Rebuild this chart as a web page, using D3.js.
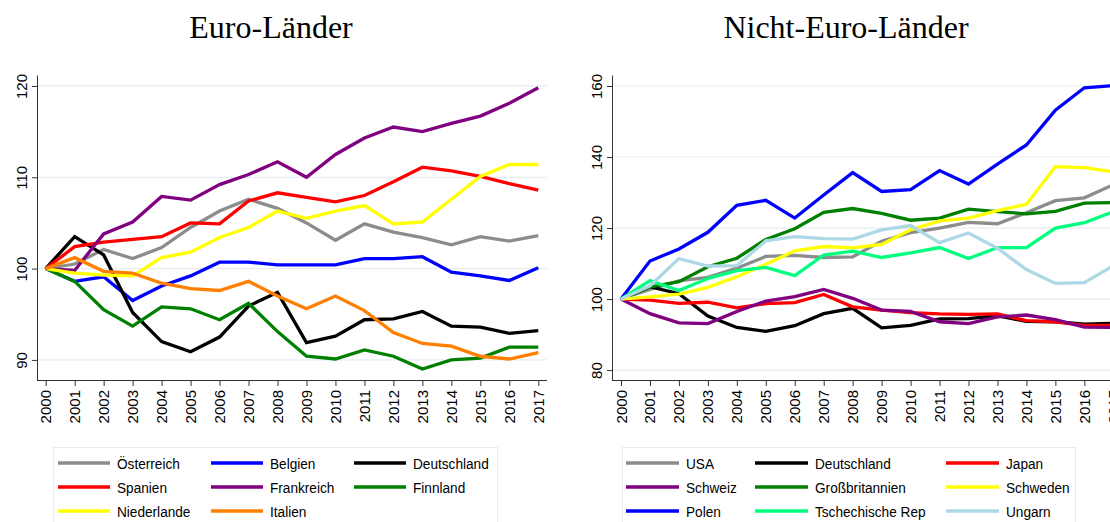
<!DOCTYPE html>
<html>
<head>
<meta charset="utf-8">
<script src="https://cdn.jsdelivr.net/npm/d3@7"></script>
<style>
  body { margin: 0; background: #fff; }
  svg { display: block; }
</style>
</head>
<body>
<div class="chart"></div>
<script>
const years = d3.range(2000, 2018);

// Euro-Länder
const oesterreich = [100, 100.5, 102.1, 101.1, 102.3, 104.5, 106.3, 107.6, 106.6, 105.0, 103.1, 104.9, 104.0, 103.4, 102.6, 103.5, 103.0, 103.6];
const belgien     = [100, 98.6, 99.1, 96.5, 98.1, 99.2, 100.7, 100.7, 100.4, 100.4, 100.4, 101.1, 101.1, 101.3, 99.6, 99.2, 98.7, 100.1];
const deutschland = [100, 103.5, 101.5, 95.2, 92.0, 90.9, 92.5, 95.9, 97.4, 91.9, 92.6, 94.4, 94.5, 95.3, 93.7, 93.6, 92.9, 93.2];
const spanien     = [100, 102.4, 102.9, 103.2, 103.5, 105.0, 104.9, 107.4, 108.3, 107.8, 107.3, 108.0, 109.5, 111.1, 110.7, 110.1, 109.3, 108.6];
const frankreich  = [100, 99.8, 103.8, 105.1, 107.9, 107.5, 109.2, 110.3, 111.7, 110.0, 112.5, 114.3, 115.5, 115.0, 115.9, 116.7, 118.1, 119.8];
const finnland    = [100, 98.6, 95.5, 93.7, 95.8, 95.6, 94.4, 96.2, 93.1, 90.4, 90.1, 91.1, 90.4, 89.0, 90.0, 90.2, 91.4, 91.4];
const niederlande = [100, 99.5, 99.3, 99.2, 101.2, 101.8, 103.4, 104.5, 106.3, 105.5, 106.3, 106.9, 104.9, 105.1, 107.6, 110.1, 111.4, 111.4];
const italien     = [100, 101.2, 99.7, 99.5, 98.4, 97.8, 97.6, 98.6, 97.0, 95.6, 97.0, 95.4, 93.0, 91.8, 91.5, 90.4, 90.1, 90.8];

// Nicht-Euro-Länder
const usa         = [100, 102.7, 105.1, 106.1, 108.7, 112.0, 112.3, 111.7, 111.9, 116.3, 118.7, 120.0, 121.6, 121.2, 124.3, 127.7, 128.5, 132.2];
const japan       = [100, 99.7, 98.8, 99.1, 97.5, 98.7, 99.0, 101.3, 97.8, 96.9, 96.2, 95.8, 95.7, 95.8, 93.9, 93.6, 92.6, 92.6];
const schweiz     = [100, 95.9, 93.3, 93.1, 96.5, 99.4, 100.7, 102.7, 100.2, 96.9, 96.5, 93.6, 93.1, 95.0, 95.5, 94.2, 92.1, 92.0];
const grossbrit   = [100, 103.4, 104.9, 109.1, 111.5, 116.8, 119.8, 124.4, 125.5, 124.1, 122.2, 122.8, 125.3, 124.6, 124.0, 124.7, 127.0, 127.2];
const schweden    = [100, 100.6, 101.4, 103.3, 106.3, 109.8, 113.6, 114.8, 114.4, 115.4, 119.5, 122.0, 122.8, 124.9, 126.7, 137.3, 137.0, 135.8];
const polen       = [100, 110.7, 114.1, 118.8, 126.4, 127.8, 122.8, 129.3, 135.6, 130.3, 130.8, 136.2, 132.4, 138.0, 143.4, 153.2, 159.5, 160.1];
const tschechien  = [100, 105.2, 102.4, 105.8, 108.0, 108.9, 106.6, 112.4, 113.5, 111.7, 113.0, 114.5, 111.4, 114.5, 114.5, 120.0, 121.5, 124.6];
const ungarn      = [100, 103.7, 111.4, 109.3, 109.4, 116.4, 117.6, 117.0, 116.9, 119.5, 120.7, 115.9, 118.6, 114.3, 108.3, 104.4, 104.6, 109.4];

const leftSeries = [
  { name: 'Österreich', values: oesterreich, color: '#8c8c8c' },
  { name: 'Belgien', values: belgien, color: '#0000ff' },
  { name: 'Deutschland', values: deutschland, color: '#000000' },
  { name: 'Spanien', values: spanien, color: '#ff0000' },
  { name: 'Frankreich', values: frankreich, color: '#800080' },
  { name: 'Finnland', values: finnland, color: '#008000' },
  { name: 'Niederlande', values: niederlande, color: '#ffff00' },
  { name: 'Italien', values: italien, color: '#ff7f00' }
];

const rightSeries = [
  { name: 'USA', values: usa, color: '#8c8c8c' },
  { name: 'Deutschland', values: deutschland, color: '#000000' },
  { name: 'Japan', values: japan, color: '#ff0000' },
  { name: 'Schweiz', values: schweiz, color: '#800080' },
  { name: 'Großbritannien', values: grossbrit, color: '#008000' },
  { name: 'Schweden', values: schweden, color: '#ffff00' },
  { name: 'Polen', values: polen, color: '#0000ff' },
  { name: 'Tschechische Rep', values: tschechien, color: '#00ff7f' },
  { name: 'Ungarn', values: ungarn, color: '#add8e6' }
];

const leftTicks = [90, 100, 110, 120];
const rightTicks = [80, 100, 120, 140, 160];

const width = 1110, height = 522;
const svg = d3.select('.chart').append('svg')
  .attr('width', width)
  .attr('height', height);

const sansFont = '"Liberation Sans", Arial, sans-serif';

function drawPanel(opts) {
  const g = svg.append('g');

  const x = d3.scaleLinear().domain([2000, 2017]).range(opts.xRange);
  const y = d3.scaleLinear().domain(opts.yDomain).range([380, 75]);

  // title
  g.append('text')
    .attr('x', opts.titleX)
    .attr('y', 38)
    .attr('text-anchor', 'middle')
    .attr('font-family', '"Liberation Serif", "Times New Roman", serif')
    .attr('font-size', 32)
    .attr('fill', '#000')
    .text(opts.title);

  // grid
  g.selectAll('.grid')
    .data(opts.yTicks)
    .enter().append('line')
    .attr('x1', opts.axisX)
    .attr('x2', opts.plotRight)
    .attr('y1', d => y(d))
    .attr('y2', d => y(d))
    .attr('stroke', '#e6eef1')
    .attr('stroke-width', 1.2);

  // y axis
  const yAxis = g.append('g')
    .attr('transform', `translate(${opts.axisX},0)`)
    .call(d3.axisLeft(y).tickValues(opts.yTicks).tickSize(5).tickSizeOuter(0));
  yAxis.select('.domain').attr('stroke', '#333');
  yAxis.selectAll('.tick line').attr('stroke', '#333');
  yAxis.selectAll('.tick text')
    .attr('font-family', sansFont)
    .attr('font-size', 15)
    .attr('fill', '#000')
    .attr('text-anchor', 'middle')
    .attr('x', null).attr('dy', null)
    .attr('transform', `translate(${opts.yLabelX - opts.axisX},0) rotate(-90)`);

  // x axis
  const xAxis = g.append('g')
    .attr('transform', 'translate(0,380)')
    .call(d3.axisBottom(x).tickValues(years).tickFormat(d3.format('d')).tickSize(6).tickSizeOuter(0));
  xAxis.select('.domain')
    .attr('d', `M${opts.axisX},0.5H${opts.plotRight}`)
    .attr('stroke', '#333');
  xAxis.selectAll('.tick line').attr('stroke', '#333');
  xAxis.selectAll('.tick text')
    .attr('font-family', sansFont)
    .attr('font-size', 15)
    .attr('fill', '#000')
    .attr('text-anchor', 'end')
    .attr('y', null).attr('dy', null)
    .attr('transform', 'translate(5,10) rotate(-90)');

  // lines
  const line = d3.line()
    .x((d, i) => x(years[i]))
    .y(d => y(d));

  g.selectAll('.series')
    .data(opts.series)
    .enter().append('path')
    .attr('d', d => line(d.values))
    .attr('fill', 'none')
    .attr('stroke', d => d.color)
    .attr('stroke-width', 3.3)
    .attr('stroke-linejoin', 'miter');

  // legend
  const lg = g.append('g');
  lg.append('rect')
    .attr('x', opts.legend.x + 0.5)
    .attr('y', 447.5)
    .attr('width', opts.legend.w)
    .attr('height', 90)
    .attr('fill', '#fff')
    .attr('stroke', '#e3ecee');

  const items = lg.selectAll('.item')
    .data(opts.series)
    .enter().append('g')
    .attr('transform', (d, i) => `translate(${opts.legend.cols[i % 3]},${463 + Math.floor(i / 3) * 24})`);

  items.append('line')
    .attr('x1', 0).attr('x2', opts.legend.sw)
    .attr('stroke', d => d.color)
    .attr('stroke-width', 3.3);

  items.append('text')
    .attr('transform', `translate(${opts.legend.sw + 7},6) scale(0.88,1)`)
    .attr('font-family', sansFont)
    .attr('font-size', 15.5)
    .attr('fill', '#000')
    .text(d => d.name);
}

drawPanel({
  title: 'Euro-Länder',
  titleX: 271,
  series: leftSeries,
  xRange: [45.7, 538.3],
  yDomain: [87.8, 121.2],
  yTicks: leftTicks,
  axisX: 37,
  yLabelX: 27,
  plotRight: 547,
  legend: { x: 53, w: 444, sw: 52, cols: [58, 211, 354] }
});

drawPanel({
  title: 'Nicht-Euro-Länder',
  titleX: 846,
  series: rightSeries,
  xRange: [621, 1113.3],
  yDomain: [77.2, 163.1],
  yTicks: rightTicks,
  axisX: 612,
  yLabelX: 602,
  plotRight: 1120,
  legend: { x: 622, w: 453, sw: 53, cols: [626, 755, 946] }
});
</script>
</body>
</html>
